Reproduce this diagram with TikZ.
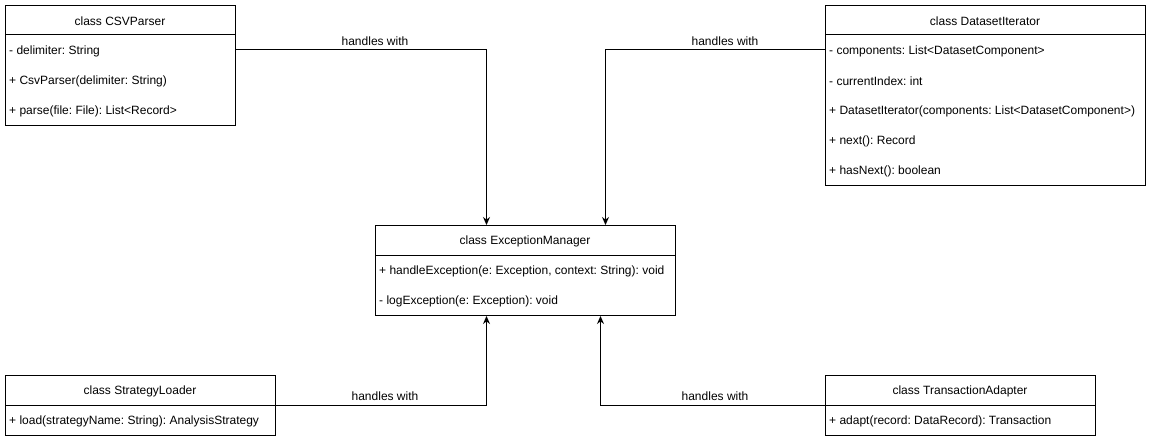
\documentclass[tikz,border=0pt]{standalone}
\usepackage{fontspec}
\setmainfont{Liberation Sans}
\usetikzlibrary{arrows.meta,calc}
\frenchspacing
\begin{document}
\begin{tikzpicture}[x=1pt,y=-1pt,
  box/.style={draw,line width=1pt,fill=white,anchor=north west,inner sep=0pt},
  hdr/.style={font=\fontsize{12}{14}\selectfont,inner sep=0pt,anchor=center,yshift=-1pt},
  row/.style={font=\fontsize{12}{14}\selectfont,inner sep=0pt,anchor=west,yshift=-1pt},
  lbl/.style={font=\fontsize{12}{14}\selectfont,inner sep=0pt,anchor=center,yshift=-1pt},
  conn/.style={line width=1pt,-{Stealth[length=8pt,width=7pt]}}]
\useasboundingbox[fill=white] (0,0) rectangle (1151,441);

% CSVParser
\node[box,minimum width=230pt,minimum height=120pt] (csv) at (5,5) {};
\draw[line width=1pt] (5,35) -- (235,35);
\node[hdr] (csvh) at (120,20) {class CSVParser};
\node[row] (csvr1) at (9,50) {- delimiter: String};
\node[row] (csvr2) at (9,80) {+ CsvParser(delimiter: String)};
\node[row] (csvr3) at (9,110) {+ parse(file: File): List<Record>};

% DatasetIterator
\node[box,minimum width=320pt,minimum height=180pt] (dsi) at (825,5) {};
\draw[line width=1pt] (825,35) -- (1145,35);
\node[hdr] (dsih) at (985,20) {class DatasetIterator};
\node[row] (dsir1) at (829,50) {- components: List<DatasetComponent>};
\node[row] (dsir2) at (829,80) {- currentIndex: int};
\node[row] (dsir3) at (829,110) {+ DatasetIterator(components: List<DatasetComponent>)};
\node[row] (dsir4) at (829,140) {+ next(): Record};
\node[row] (dsir5) at (829,170) {+ hasNext(): boolean};

% ExceptionManager
\node[box,minimum width=300pt,minimum height=90pt] (em) at (375,225) {};
\draw[line width=1pt] (375,255) -- (675,255);
\node[hdr] (emh) at (525,240) {class ExceptionManager};
\node[row] (emr1) at (379,270) {+ handleException(e: Exception, context: String): void};
\node[row] (emr2) at (379,300) {- logException(e: Exception): void};

% StrategyLoader
\node[box,minimum width=270pt,minimum height=60pt] (sl) at (5,375) {};
\draw[line width=1pt] (5,405) -- (275,405);
\node[hdr] (slh) at (140,390) {class StrategyLoader};
\node[row] (slr1) at (9,420) {+ load(strategyName: String): AnalysisStrategy};

% TransactionAdapter
\node[box,minimum width=270pt,minimum height=60pt] (ta) at (825,375) {};
\draw[line width=1pt] (825,405) -- (1095,405);
\node[hdr] (tah) at (960,390) {class TransactionAdapter};
\node[row] (tar1) at (829,420) {+ adapt(record: DataRecord): Transaction};

% target points on ExceptionManager
\coordinate (emt1) at ($(em.north)+(-39,0)$);
\coordinate (emt2) at ($(em.north)+(80,0)$);
\coordinate (emb1) at ($(em.south)+(-39,0)$);
\coordinate (emb2) at ($(em.south)+(75,0)$);
\coordinate (csvp) at (235,50);
\coordinate (dsip) at (825,50);

% connectors
\draw[conn] (csvp) -| (emt1);
\draw[conn] (dsip) -| (emt2);
\draw[conn] (sl.east) -| (emb1);
\draw[conn] (ta.west) -| (emb2);

% labels
\node[lbl] (l1) at (375,40) {handles with};
\node[lbl] (l2) at (725,40) {handles with};
\node[lbl] (l3) at (385,395) {handles with};
\node[lbl] (l4) at (715,395) {handles with};
\end{tikzpicture}
\end{document}
